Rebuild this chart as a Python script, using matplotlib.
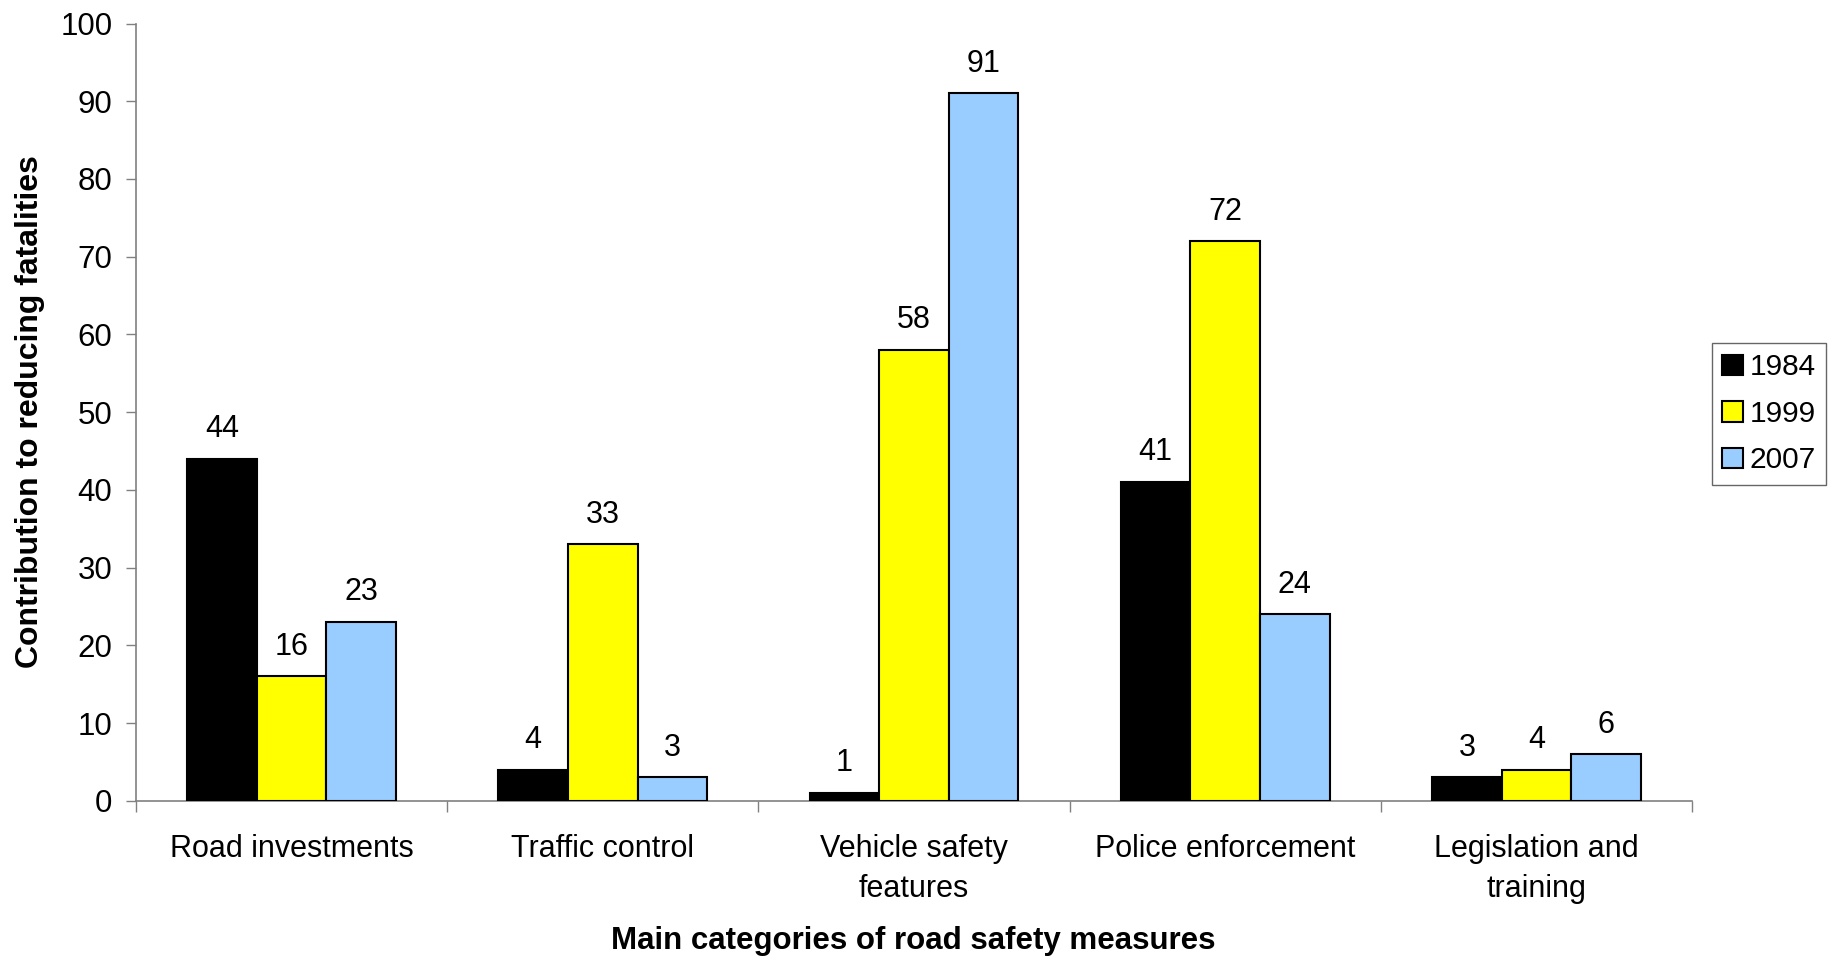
import matplotlib
matplotlib.use("Agg")
import matplotlib.pyplot as plt
import numpy as np

plt.rcParams['font.family'] = ['Liberation Sans', 'DejaVu Sans']

categories = ["Road investments", "Traffic control", "Vehicle safety\nfeatures",
              "Police enforcement", "Legislation and\ntraining"]
years = ["1984", "1999", "2007"]
values_1984 = [44, 4, 1, 41, 3]
values_1999 = [16, 33, 58, 72, 4]
values_2007 = [23, 3, 91, 24, 6]
series = [values_1984, values_1999, values_2007]
colors = ["#000000", "#FFFF00", "#99CCFF"]

fig = plt.figure(figsize=(18.36, 9.57), dpi=100)
ax = fig.add_axes([136 / 1836, 0.1633, 1556 / 1836, 0.8121])

x = np.arange(len(categories))
width = 0.2235
for i, (vals, col, yr) in enumerate(zip(series, colors, years)):
    pos = x + (i - 1) * width
    bars = ax.bar(pos, vals, width=width, color=col, edgecolor="black",
                  linewidth=1.5, label=yr, zorder=3)
    for b, v in zip(bars, vals):
        ax.annotate(str(v), (b.get_x() + b.get_width() / 2, v),
                    xytext=(0, 10.5), textcoords="offset points",
                    ha="center", va="bottom", fontsize=22)

ax.set_xlim(-0.5, len(categories) - 0.5)
ax.set_ylim(0, 100)
ax.set_yticks(np.arange(0, 101, 10))
ax.tick_params(axis="y", labelsize=22.5, length=7, width=1, color="#808080", pad=10)

# category boundary ticks, labels centered in each category
ax.set_xticks(np.arange(-0.5, len(categories), 1.0))
ax.set_xticklabels([])
ax.set_xticks(x, minor=True)
ax.set_xticklabels(categories, minor=True, fontsize=22, linespacing=1.45)
ax.tick_params(axis="x", which="major", length=8, width=1, color="#808080")
ax.tick_params(axis="x", which="minor", length=0, pad=24)

for s in ["top", "right"]:
    ax.spines[s].set_visible(False)
for s in ["left", "bottom"]:
    ax.spines[s].set_color("#808080")
    ax.spines[s].set_linewidth(1.2)

fig.text(0.0165, 0.5695, "Contribution to reducing fatalities", rotation=90,
         ha="center", va="center", fontsize=23, fontweight="bold")
fig.text(0.4975, 0.017, "Main categories of road safety measures",
         ha="center", va="center", fontsize=22.5, fontweight="bold")

leg = ax.legend(loc="upper left", bbox_to_anchor=(1712 / 1836, 1 - 343 / 957),
                bbox_transform=fig.transFigure, fontsize=21.5, frameon=True,
                fancybox=False, borderpad=0.35, handlelength=0.7, handleheight=0.7,
                handletextpad=0.2, labelspacing=0.62, borderaxespad=0)
leg.get_frame().set_edgecolor("#404040")
leg.get_frame().set_linewidth(1.0)

fig.savefig("out.png", dpi=100)
